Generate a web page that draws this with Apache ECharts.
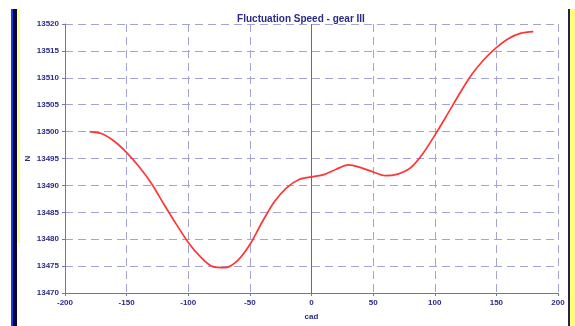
<!DOCTYPE html>
<html>
<head>
<meta charset="utf-8">
<script src="https://cdn.jsdelivr.net/npm/echarts@6/dist/echarts.min.js"></script>
<style>
  html, body { margin: 0; padding: 0; background: #fff; }
  #chart { width: 575px; height: 326px; }
</style>
</head>
<body>
<div id="chart"></div>
<script>
// crank angle (cad) and speed (N)
const cad = [-180, -170, -160, -150, -140, -130, -120, -110, -100, -90, -80, -70, -60, -50, -40, -30, -20, -10,
  0, 10, 20, 30, 40, 50, 60, 70, 80, 90, 100, 110, 120, 130, 140, 150, 160, 170, 180];
const speed = [13500, 13499.6, 13498.2, 13496.1, 13493.5, 13490.4, 13486.6, 13482.9, 13479.4, 13476.7, 13474.9, 13474.7,
  13476.0, 13479.0, 13483.2, 13487.0, 13489.6, 13491.1, 13491.6, 13492.0, 13493.0, 13493.8, 13493.3, 13492.5,
  13491.8, 13492.1, 13493.2, 13495.8, 13499.3, 13503.1, 13507.0, 13510.6, 13513.4, 13515.6, 13517.3, 13518.3, 13518.6];

const navy = '#2b2b86';
const gridCol = '#a4a4d4';

const chart = echarts.init(document.getElementById('chart'), null, { renderer: 'canvas' });

const labelStyle = { color: navy, fontSize: 8, fontWeight: 'bold', fontFamily: 'Liberation Sans' };

chart.setOption({
  animation: false,
  title: {
    text: 'Fluctuation Speed - gear III',
    left: 296, textAlign: 'center', top: 9,
    textStyle: { color: navy, fontSize: 10, fontWeight: 'bold', fontFamily: 'Liberation Sans' }
  },
  grid: { left: 65, right: 17, top: 24, bottom: 32, containLabel: false },
  xAxis: {
    type: 'value', min: -200, max: 200, interval: 50,
    name: 'cad', nameLocation: 'middle', nameGap: 20,
    nameTextStyle: labelStyle,
    axisLine: { onZero: false, lineStyle: { color: '#7474b4', width: 1 } },
    axisTick: { length: 3, lineStyle: { color: '#7474b4' } },
    axisLabel: Object.assign({ margin: 6 }, labelStyle),
    splitLine: { show: true, lineStyle: { color: gridCol, type: [8, 5], width: 1 } }
  },
  yAxis: {
    type: 'value', min: 13470, max: 13520, interval: 5,
    name: 'N', nameLocation: 'middle', nameGap: 33, nameMoveOverlap: false,
    nameTextStyle: labelStyle,
    axisLine: { show: true, onZero: false, lineStyle: { color: '#7474b4', width: 1 } },
    axisTick: { show: true, length: 3, lineStyle: { color: '#7474b4' } },
    axisLabel: Object.assign({ margin: 6, formatter: v => String(v) }, labelStyle),
    splitLine: { show: true, lineStyle: { color: gridCol, type: [8, 5], width: 1 } }
  },
  series: [{
    type: 'line',
    data: cad.map((c, i) => [c, speed[i]]),
    smooth: 0.3,
    showSymbol: false,
    lineStyle: { color: '#ff3535', width: 1.7 },
    markLine: {
      silent: true, symbol: 'none', label: { show: false },
      lineStyle: { color: '#6464ac', type: 'solid', width: 1 },
      data: [{ xAxis: 0 }]
    },
    z: 3
  }],
  graphic: [
    { type: 'rect', shape: { x: 11, y: 9, width: 2, height: 317 }, style: { fill: '#1838d8' } },
    { type: 'rect', shape: { x: 13, y: 9, width: 4, height: 317 }, style: { fill: '#06063e' } },
    { type: 'rect', shape: { x: 17, y: 9, width: 3, height: 234 }, style: { fill: '#ffff90' } },
    { type: 'rect', shape: { x: 568, y: 9, width: 2, height: 317 }, style: { fill: '#20205a' } },
    { type: 'rect', shape: { x: 570, y: 9, width: 5, height: 317 }, style: { fill: '#ffff70' } }
  ]
});
</script>
</body>
</html>
